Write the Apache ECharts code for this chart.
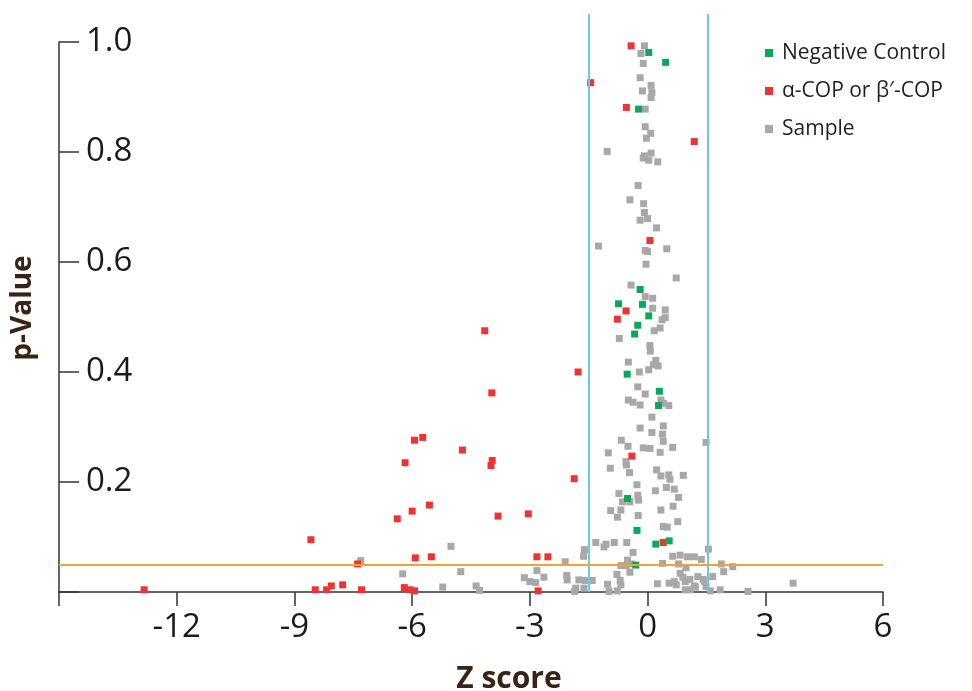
<!DOCTYPE html>
<html>
<head>
<meta charset="utf-8">
<script src="https://cdn.jsdelivr.net/npm/echarts@6/dist/echarts.min.js"></script>
<style>
html,body{margin:0;padding:0;background:#fff;}
#chart{width:972px;height:691px;}
</style>
</head>
<body>
<div id="chart"></div>
<script>
// ---- data ----
const seriesNames = ['Negative Control', 'α-COP or β′-COP', 'Sample'];
const xTicks = [-15, -12, -9, -6, -3, 0, 3, 6];
const yTicks = [0, 0.2, 0.4, 0.6, 0.8, 1.0];
const pCutoff = 0.052;
const zCutoffs = [-1.49, 1.53];

const negativeControl = [
  [-0.74,0.524],[-0.52,0.396],[-0.51,0.17],[-0.33,0.469],[-0.3,0.049],[-0.27,0.112],
  [-0.25,0.485],[-0.23,0.878],[-0.19,0.55],[-0.13,0.523],[0.03,0.981],[0.03,0.502],
  [0.21,0.087],[0.28,0.339],[0.3,0.365],[0.46,0.963],[0.55,0.093]
];

const copHits = [
  [-12.83,0.004],[-8.58,0.095],[-8.47,0.004],[-8.18,0.004],[-8.06,0.011],[-7.77,0.013],
  [-7.39,0.051],[-7.29,0.004],[-6.38,0.133],[-6.2,0.008],[-6.18,0.235],[-6.05,0.004],
  [-6.0,0.147],[-5.94,0.276],[-5.94,0.002],[-5.92,0.062],[-5.73,0.281],[-5.56,0.158],
  [-5.51,0.064],[-4.72,0.258],[-4.15,0.475],[-3.97,0.362],[-3.96,0.239],[-3.99,0.23],
  [-3.81,0.138],[-3.04,0.142],[-2.82,0.064],[-2.79,0.002],[-2.54,0.064],[-1.87,0.206],
  [-1.77,0.4],[-1.45,0.926],[-0.77,0.496],[-0.55,0.511],[-0.54,0.881],[-0.42,0.993],
  [-0.4,0.247],[0.06,0.639],[0.4,0.09],[1.19,0.819]
];

const sample = [
  [-7.31,0.057],[-6.24,0.033],[-5.22,0.009],[-5.01,0.083],[-4.76,0.037],[-4.37,0.011],
  [-4.28,0.003],[-3.14,0.026],[-3.0,0.019],[-2.85,0.017],[-2.82,0.039],[-2.64,0.027],
  [-2.1,0.055],[-2.06,0.03],[-2.05,0.022],[-1.86,0.001],[-1.83,0.007],[-1.75,0.022],
  [-1.62,0.007],[-1.63,0.065],[-1.61,0.077],[-1.58,0.021],[-1.41,0.021],[-1.32,0.09],
  [-1.11,0.082],[-1.06,0.087],[-0.85,0.09],[-0.53,0.09],[-0.37,0.072],[-0.51,0.058],
  [-0.68,0.048],[-0.55,0.048],[-0.42,0.051],[0.64,0.065],[0.83,0.067],[1.02,0.064],
  [1.19,0.064],[1.37,0.059],[1.55,0.078],[0.38,0.052],[0.79,0.051],[0.98,0.044],
  [1.88,0.051],[2.17,0.046],[-0.78,0.032],[-0.7,0.021],[-0.68,0.013],[-1.02,0.014],
  [-0.98,0.001],[-0.77,0.002],[-0.45,0.036],[0.83,0.034],[0.9,0.027],[1.08,0.023],
  [1.28,0.028],[1.42,0.023],[1.66,0.028],[1.94,0.037],[0.25,0.015],[0.55,0.016],
  [0.68,0.019],[0.73,0.013],[0.96,0.019],[1.19,0.011],[0.96,0.004],[1.09,0.004],
  [1.22,0.009],[1.45,0.019],[1.49,0.01],[1.6,0.002],[1.85,0.004],[2.56,0.001],
  [3.71,0.016],
  [-0.19,0.298],[0.11,0.29],[0.4,0.302],[0.38,0.287],[0.4,0.274],[-0.67,0.276],
  [-0.5,0.265],[-0.11,0.262],[0.06,0.261],[0.32,0.254],[0.64,0.263],[1.49,0.272],
  [-1.0,0.253],[-0.55,0.237],[-0.54,0.231],[-0.95,0.225],[-0.46,0.217],[0.23,0.222],
  [0.34,0.211],[0.54,0.213],[0.57,0.205],[0.91,0.212],[-0.27,0.195],[0.2,0.184],
  [0.48,0.19],[0.68,0.187],[-0.73,0.179],[-0.25,0.176],[-0.23,0.167],[-0.64,0.164],
  [-0.45,0.164],[0.79,0.172],[-0.94,0.148],[-0.68,0.149],[-0.77,0.136],[0.34,0.149],
  [0.65,0.156],[-0.24,0.139],[0.77,0.128],[0.4,0.119],[0.5,0.118],
  [-0.45,0.713],[0.23,0.662],[-1.25,0.629],[-0.06,0.621],[0.0,0.619],[0.49,0.624],
  [-0.04,0.596],[0.73,0.571],[-0.42,0.558],[-0.06,0.537],[0.13,0.534],[0.13,0.516],
  [0.45,0.513],[0.45,0.499],[0.37,0.495],[0.32,0.48],[0.17,0.475],[-0.72,0.461],
  [0.06,0.448],[0.07,0.438],[0.21,0.421],[0.15,0.413],[0.27,0.411],[-0.49,0.418],
  [-0.21,0.4],[0.03,0.404],[-0.25,0.373],[-0.06,0.36],[-0.49,0.349],[-0.37,0.345],
  [-0.19,0.34],[0.34,0.349],[0.4,0.343],[0.54,0.339],[0.11,0.318],
  [-0.08,0.993],[-0.17,0.979],[-0.11,0.961],[-0.19,0.935],[0.09,0.921],[-0.13,0.911],
  [0.11,0.908],[0.09,0.899],[-0.06,0.878],[-0.06,0.846],[0.08,0.834],[-0.03,0.825],
  [-1.03,0.801],[0.09,0.798],[-0.08,0.793],[0.03,0.785],[-0.11,0.789],[0.26,0.782],
  [-0.24,0.739],[-0.1,0.706],[-0.08,0.69],[0.0,0.679],[-0.19,0.676]
];

// ---- chart ----
const chart = echarts.init(document.getElementById('chart'), null, {renderer: 'canvas'});
const FONT = '"Open Sans", "Noto Sans", sans-serif';
const TITLE_COLOR = '#3b2314';
const AXIS_COLOR = '#333333';
const COLORS = {green: '#0aa85a', red: '#ee3333', gray: '#a8a8a8'};
const SYM = 7;

const gridL = 59, gridR = 89, gridB = 99;

const option = {
  animation: false,
  backgroundColor: '#ffffff',
  legend: {
    data: seriesNames,
    orient: 'vertical',
    left: 760,
    top: 37,
    itemWidth: 8,
    itemHeight: 8,
    itemGap: 16,
    icon: 'rect',
    textStyle: {fontFamily: FONT, fontSize: 21, color: '#231f20', lineHeight: 22, padding: [0,0,0,4]}
  },
  grid: [
    {left: gridL, right: gridR, top: 42, bottom: gridB, containLabel: false, outerBoundsMode: 'none'},
    {left: gridL, right: gridR, top: 14, bottom: gridB, containLabel: false, outerBoundsMode: 'none'}
  ],
  xAxis: [
    {
      gridIndex: 0, type: 'value',
      min: xTicks[0], max: xTicks[xTicks.length - 1], interval: 3,
      splitLine: {show: false},
      axisLine: {show: true, onZero: false, lineStyle: {color: AXIS_COLOR, width: 1.5}},
      axisTick: {show: true, inside: false, length: 14, lineStyle: {color: AXIS_COLOR, width: 1.5}},
      axisLabel: {
        margin: 19, fontFamily: FONT, fontSize: 33, color: '#1a1a1a',
        formatter: v => (v === xTicks[0] ? '' : String(v)),
        showMinLabel: true, showMaxLabel: true
      },
      name: 'Z score',
      nameLocation: 'middle',
      nameGap: 72,
      nameTextStyle: {fontFamily: FONT, fontWeight: 'bold', fontSize: 30, color: TITLE_COLOR, padding: [0, 0, 0, 76]}
    },
    {gridIndex: 1, type: 'value', min: xTicks[0], max: xTicks[xTicks.length - 1], show: false}
  ],
  yAxis: [
    {
      gridIndex: 0, type: 'value',
      min: yTicks[0], max: yTicks[yTicks.length - 1], interval: 0.2,
      splitLine: {show: false},
      axisLine: {show: true, onZero: false, lineStyle: {color: AXIS_COLOR, width: 1.5}},
      axisTick: {show: true, inside: true, length: 20, lineStyle: {color: AXIS_COLOR, width: 1.5}},
      axisLabel: {
        inside: true, margin: 27, fontFamily: FONT, fontSize: 33, color: '#1a1a1a',
        formatter: v => (v === 0 ? '' : v.toFixed(1))
      },
      name: 'p-Value',
      nameLocation: 'middle',
      nameRotate: 90,
      nameGap: 22,
      nameTextStyle: {fontFamily: FONT, fontWeight: 'bold', fontSize: 28, color: TITLE_COLOR, padding: [0, 0, 0, 18]}
    },
    {gridIndex: 1, type: 'value', min: 0, max: 1.051, show: false}
  ],
  series: [
    {
      name: 'cutoffs', type: 'scatter', xAxisIndex: 1, yAxisIndex: 1, data: [],
      silent: true,
      markLine: {
        silent: true, symbol: 'none', label: {show: false},
        lineStyle: {color: '#6ec6ee', width: 2, type: 'solid'},
        data: zCutoffs.map(z => ({xAxis: z}))
      }
    },
    {
      name: 'Sample', type: 'scatter', xAxisIndex: 0, yAxisIndex: 0,
      symbol: 'rect', symbolSize: SYM, data: sample,
      itemStyle: {color: COLORS.gray, opacity: 1},
      markLine: {
        silent: true, symbol: 'none', label: {show: false},
        lineStyle: {color: '#f2a424', width: 2, type: 'solid'},
        data: [{yAxis: pCutoff}]
      }
    },
    {
      name: 'α-COP or β′-COP', type: 'scatter', xAxisIndex: 0, yAxisIndex: 0,
      symbol: 'rect', symbolSize: SYM, data: copHits,
      itemStyle: {color: COLORS.red, opacity: 1}
    },
    {
      name: 'Negative Control', type: 'scatter', xAxisIndex: 0, yAxisIndex: 0,
      symbol: 'rect', symbolSize: SYM, data: negativeControl,
      itemStyle: {color: COLORS.green, opacity: 1}
    }
  ]
};
chart.setOption(option);
</script>
</body>
</html>
